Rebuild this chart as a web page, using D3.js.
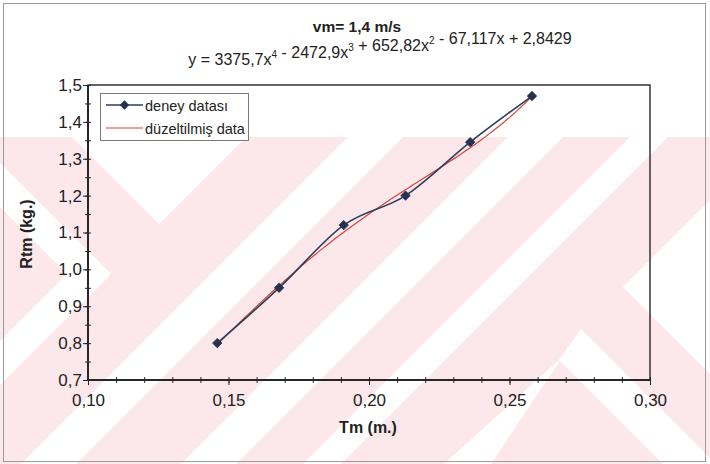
<!DOCTYPE html>
<html><head><meta charset="utf-8">
<script src="https://cdn.jsdelivr.net/npm/d3@7"></script>
<style>
body{margin:0;background:#fff}
svg{display:block}
text{font-family:"Liberation Sans",Arial,Helvetica,sans-serif;fill:#222}
</style></head>
<body>
<svg id="chart" width="710" height="464"></svg>
<script>
// ---------- data ----------
const tmValues  = [0.146, 0.168, 0.191, 0.213, 0.236, 0.258];   // Tm (m.)
const rtmValues = [0.80, 0.95, 1.12, 1.20, 1.345, 1.47];        // Rtm (kg.)
// trendline coefficients c0..c4 (y = c4 x^4 + c3 x^3 + c2 x^2 + c1 x + c0)
const trendCoefs = [2.8429, -67.117, 652.82, -2472.9, 3375.7];
const xTickValues = [0.10, 0.15, 0.20, 0.25, 0.30];
const yTickValues = [0.7, 0.8, 0.9, 1.0, 1.1, 1.2, 1.3, 1.4, 1.5];
const seriesNames = ["deney datası", "düzeltilmiş data"];
const titleText = "vm= 1,4 m/s";
const xAxisTitle = "Tm (m.)";
const yAxisTitle = "Rtm (kg.)";

// ---------- layout ----------
const W = 710, H = 464;
const plot = {left: 88, right: 650, top: 85, bottom: 380};
const svg = d3.select("#chart");

// background watermark (decorative)
const pink = "#fce8eb";
const wm = svg.append("g");
wm.append("rect").attr("x", 0).attr("y", 137).attr("width", W).attr("height", H - 137).attr("fill", pink);
const whitePolys = [
  [[72,137],[246,137],[159,224]],                 // V notch
  [[0,163],[111,274],[89,296],[0,207]],            // left chevron upper arm
  [[111,274],[0,385],[0,341],[89,252]],            // left chevron lower arm
  [[348,137],[403,137],[76,464],[21,464]],         // band 1
  [[508,137],[563,137],[236,464],[181,464]],       // band 2
  [[630,137],[668,137],[341,464],[303,464]],       // band 3
  [[581,329],[710,458],[710,464],[663,464],[559,360]], // "\" band lower right
  [[559,360],[581,329],[491,464],[444,464]],       // "/" band to the apex
  [[710,200],[623,287],[710,374]]                  // right chevron
];
wm.selectAll("polygon").data(whitePolys).join("polygon")
  .attr("points", d => d.map(p => p.join(",")).join(" "))
  .attr("fill", "#fff");

// outer frame
svg.append("rect").attr("x", 3.5).attr("y", 3.5).attr("width", 702).attr("height", 458)
  .attr("fill", "none").attr("stroke", "#9a9a9a").attr("stroke-width", 1);

// ---------- scales ----------
const x = d3.scaleLinear().domain([0.10, 0.30]).range([plot.left, plot.right]);
const y = d3.scaleLinear().domain([0.7, 1.5]).range([plot.bottom, plot.top]);
const fmt2 = d => d.toFixed(2).replace(".", ",");
const fmt1 = d => d.toFixed(1).replace(".", ",");

// ---------- axes ----------
const axisColor = "#262626";
const xMinor = d3.range(0, 21).map(i => 0.10 + i * 0.01);
const yMinor = d3.range(0, 17).map(i => 0.7 + i * 0.05);

const gxOut = svg.append("g").attr("transform", `translate(0,${plot.bottom})`)
  .call(d3.axisBottom(x).tickValues(xTickValues).tickFormat(fmt2).tickSize(5).tickSizeOuter(0).tickPadding(9));
const gxMinOut = svg.append("g").attr("transform", `translate(0,${plot.bottom})`)
  .call(d3.axisBottom(x).tickValues(xMinor).tickFormat("").tickSize(3).tickSizeOuter(0));
const gxIn = svg.append("g").attr("transform", `translate(0,${plot.bottom})`)
  .call(d3.axisTop(x).tickValues(xMinor).tickFormat("").tickSize(3).tickSizeOuter(0));

const gyOut = svg.append("g").attr("transform", `translate(${plot.left},0)`)
  .call(d3.axisLeft(y).tickValues(yTickValues).tickFormat(fmt1).tickSize(5).tickSizeOuter(0).tickPadding(1));
const gyMinOut = svg.append("g").attr("transform", `translate(${plot.left},0)`)
  .call(d3.axisLeft(y).tickValues(yMinor).tickFormat("").tickSize(3).tickSizeOuter(0));
const gyIn = svg.append("g").attr("transform", `translate(${plot.left},0)`)
  .call(d3.axisRight(y).tickValues(yMinor).tickFormat("").tickSize(3).tickSizeOuter(0));

[gxOut, gxMinOut, gxIn, gyOut, gyMinOut, gyIn].forEach(g => {
  g.selectAll(".domain").remove();
  g.selectAll(".tick line").attr("stroke", axisColor).attr("stroke-width", 1);
  g.selectAll(".tick text").attr("font-size", 17).attr("fill", "#2a2a2a")
    .style("font-family", '"Liberation Sans",Arial,sans-serif');
});

// plot border
svg.append("rect").attr("x", plot.left).attr("y", plot.top)
  .attr("width", plot.right - plot.left).attr("height", plot.bottom - plot.top)
  .attr("fill", "none").attr("stroke", axisColor).attr("stroke-width", 1.4);
svg.append("line").attr("x1", plot.left).attr("x2", plot.right).attr("y1", plot.bottom).attr("y2", plot.bottom)
  .attr("stroke", axisColor).attr("stroke-width", 2);
svg.append("line").attr("x1", plot.left).attr("x2", plot.left).attr("y1", plot.top).attr("y2", plot.bottom)
  .attr("stroke", axisColor).attr("stroke-width", 2);

// ---------- series ----------
const dataPts = tmValues.map((t, i) => [t, rtmValues[i]]);
const poly = v => trendCoefs.reduce((s, c, k) => s + c * Math.pow(v, k), 0);
const trendX = d3.range(0, 113).map(i => tmValues[0] + i * (tmValues[tmValues.length - 1] - tmValues[0]) / 112);
const trendPts = trendX.map(v => [v, poly(v)]);

const lineBlue = "#2e3f5a", markBlue = "#243250", lineRed = "#d8453c";

svg.append("path").datum(trendPts)
  .attr("d", d3.line().x(d => x(d[0])).y(d => y(d[1])))
  .attr("fill", "none").attr("stroke", lineRed).attr("stroke-width", 1.2);

svg.append("path").datum(dataPts)
  .attr("d", d3.line().x(d => x(d[0])).y(d => y(d[1])).curve(d3.curveCardinal.tension(0)))
  .attr("fill", "none").attr("stroke", lineBlue).attr("stroke-width", 1.6);

const diamond = d3.symbol(d3.symbolSquare, 44);
svg.append("g").selectAll("path").data(dataPts).join("path")
  .attr("d", diamond)
  .attr("transform", d => `translate(${x(d[0])},${y(d[1])}) rotate(45)`)
  .attr("fill", markBlue).attr("stroke", markBlue).attr("stroke-width", 0.8);

// ---------- legend ----------
const lg = svg.append("g");
lg.append("rect").attr("x", 100.5).attr("y", 93.5).attr("width", 148).attr("height", 47)
  .attr("fill", "#fff").attr("stroke", "#7a7a7a").attr("stroke-width", 1);
const rows = [{name: seriesNames[0], y: 105, color: lineBlue, marker: true},
              {name: seriesNames[1], y: 128, color: lineRed, marker: false}];
rows.forEach(r => {
  lg.append("line").attr("x1", 106).attr("x2", 143).attr("y1", r.y).attr("y2", r.y)
    .attr("stroke", r.color).attr("stroke-width", r.marker ? 1.6 : 1.2);
  if (r.marker) lg.append("path").attr("d", diamond)
    .attr("transform", `translate(124.5,${r.y}) rotate(45)`).attr("fill", markBlue);
  lg.append("text").attr("x", 145).attr("y", r.y + 5.5).attr("font-size", 14.5).text(r.name);
});

// ---------- titles ----------
svg.append("text").attr("x", 357).attr("y", 32).attr("text-anchor", "middle")
  .attr("font-size", 15.5).attr("font-weight", "bold").text(titleText);

const eq = svg.append("text").attr("x", 380).attr("y", 65).attr("text-anchor", "middle").attr("font-size", 16);
const eqParts = [["y = 3375,7x", "4"], [" - 2472,9x", "3"], [" + 652,82x", "2"], [" - 67,117x + 2,8429", null]];
eqParts.forEach(([t, s]) => {
  eq.append("tspan").text(t);
  if (s) {
    eq.append("tspan").attr("font-size", 10).attr("dy", -7).text(s);
    eq.append("tspan").attr("dy", 7).text("");
  }
});

svg.append("text").attr("x", 368).attr("y", 433).attr("text-anchor", "middle")
  .attr("font-size", 16).attr("font-weight", "bold").text(xAxisTitle);
svg.append("text").attr("transform", "translate(32,234) rotate(-90)").attr("text-anchor", "middle")
  .attr("font-size", 16).attr("font-weight", "bold").text(yAxisTitle);
</script>
</body></html>
